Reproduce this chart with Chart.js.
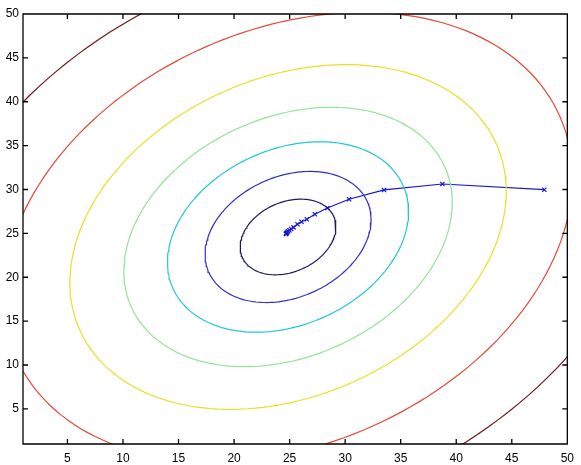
<!DOCTYPE html>
<html>
<head>
<meta charset="utf-8">
<script src="https://cdn.jsdelivr.net/npm/chart.js@4.4.1/dist/chart.umd.min.js"></script>
<style>
  body { margin: 0; background: #fff; }
  canvas { display: block; }
</style>
</head>
<body>
<canvas id="contourChart" width="581" height="465"></canvas>
<script>
// axis ranges and tick labels
var xRange = [1, 50];
var yRange = [1, 50];
var xTicks = [5, 10, 15, 20, 25, 30, 35, 40, 45, 50];
var yTicks = [5, 10, 15, 20, 25, 30, 35, 40, 45, 50];

// contour levels: common centre, tilt, half width in x of each ring
var contourCenter = [24.86, 24.59];
var contourTilt = 0.265;
var contourHalfWidths = [4.31, 7.47, 10.85, 14.78, 19.64, 25.6, 32.8];
var contourColors = ['#1c1a60', '#2f2fc4', '#22c8d6', '#94e494', '#e8e024', '#e24a3c', '#6e1616'];

// gradient descent path
var pathX = [47.93, 38.75, 33.50, 30.35, 28.40, 27.27, 26.55, 26.07, 25.71, 25.35, 25.14, 24.99, 24.87, 24.80, 24.75, 24.71, 24.68, 24.67];
var pathY = [29.98, 30.63, 29.95, 28.89, 27.89, 27.18, 26.61, 26.33, 26.04, 25.69, 25.50, 25.35, 25.24, 25.16, 25.08, 25.02, 24.97, 24.93];

// turn one ring (centre + tilt + half width) into points
function ringPoints(halfWidth) {
  var k = contourTilt;
  var r = halfWidth * Math.sqrt(1 - k * k);
  var a = r / Math.sqrt(1 - k), b = r / Math.sqrt(1 + k);
  var pts = [];
  for (var i = 0; i <= 360; i += 2) {
    var t = i * Math.PI / 180;
    var u = a * Math.cos(t), v = b * Math.sin(t);
    pts.push({ x: contourCenter[0] + (u + v) / Math.SQRT2, y: contourCenter[1] + (u - v) / Math.SQRT2 });
  }
  return pts;
}

var datasets = contourHalfWidths.map(function (w, i) {
  return {
    data: ringPoints(w),
    showLine: true,
    borderColor: contourColors[i],
    borderWidth: 1.2,
    pointRadius: 0,
    tension: 0
  };
});

datasets.push({
  data: pathX.map(function (x, i) { return { x: x, y: pathY[i] }; }),
  showLine: true,
  borderColor: '#1515d8',
  backgroundColor: '#1515d8',
  borderWidth: 1.2,
  pointStyle: 'crossRot',
  pointRadius: 3,
  pointBorderWidth: 1.2,
  tension: 0
});

// box with inward ticks on all four sides
var framePlugin = {
  id: 'boxTicks',
  afterDatasetsDraw: function (chart) {
    var ctx = chart.ctx, a = chart.chartArea;
    var xs = chart.scales.x, ys = chart.scales.y;
    ctx.save();
    ctx.strokeStyle = '#000000';
    ctx.lineWidth = 1.3;
    ctx.beginPath();
    ctx.rect(a.left, a.top, a.right - a.left, a.bottom - a.top);
    xTicks.forEach(function (v) {
      var px = xs.getPixelForValue(v);
      ctx.moveTo(px, a.bottom); ctx.lineTo(px, a.bottom - 5);
      ctx.moveTo(px, a.top); ctx.lineTo(px, a.top + 5);
    });
    yTicks.forEach(function (v) {
      var py = ys.getPixelForValue(v);
      ctx.moveTo(a.left, py); ctx.lineTo(a.left + 5, py);
      ctx.moveTo(a.right, py); ctx.lineTo(a.right - 5, py);
    });
    ctx.stroke();
    ctx.restore();
  }
};

var tickFont = { family: '"Liberation Sans", Arial, sans-serif', size: 12 };

new Chart(document.getElementById('contourChart'), {
  type: 'scatter',
  data: { datasets: datasets },
  options: {
    responsive: false,
    animation: false,
    devicePixelRatio: 1,
    layout: { padding: { top: 14, right: 12, left: 0, bottom: 0 } },
    plugins: { legend: { display: false }, tooltip: { enabled: false } },
    scales: {
      x: {
        type: 'linear',
        min: xRange[0],
        max: xRange[1],
        afterBuildTicks: function (s) { s.ticks = xTicks.map(function (v) { return { value: v }; }); },
        afterFit: function (s) { s.height = 21; },
        grid: { display: false, drawTicks: false },
        border: { display: false },
        ticks: { color: '#000', font: tickFont, padding: 7, maxRotation: 0 }
      },
      y: {
        type: 'linear',
        min: yRange[0],
        max: yRange[1],
        afterBuildTicks: function (s) { s.ticks = yTicks.map(function (v) { return { value: v }; }); },
        afterFit: function (s) { s.width = 23; },
        grid: { display: false, drawTicks: false },
        border: { display: false },
        ticks: { color: '#000', font: tickFont, padding: 4 }
      }
    }
  },
  plugins: [framePlugin]
});
</script>
</body>
</html>
